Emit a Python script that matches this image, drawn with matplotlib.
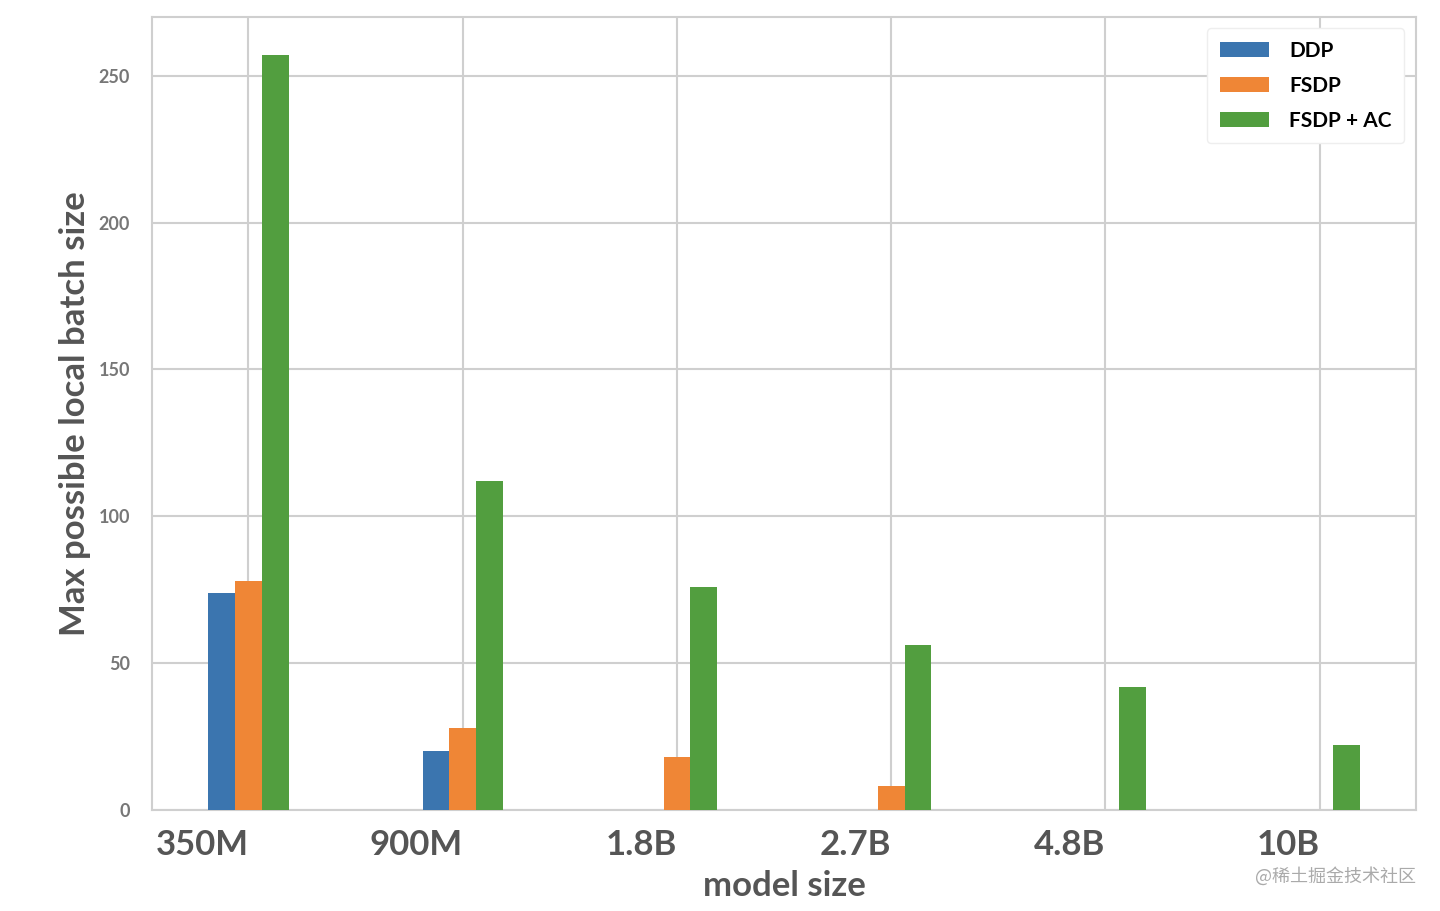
import matplotlib
matplotlib.use("Agg")
import matplotlib.pyplot as plt
import numpy as np

# data
model_sizes = ["350M", "900M", "1.8B", "2.7B", "4.8B", "10B"]
ddp = [74, 20, 0, 0, 0, 0]
fsdp = [78, 28, 18, 8, 0, 0]
fsdp_ac = [257, 112, 76, 56, 42, 22]
series_names = ["DDP", "FSDP", "FSDP + AC"]
colors = ["#3b75af", "#ef8636", "#529e3f"]

plt.rcParams["font.family"] = ["Lato", "DejaVu Sans"]

fig = plt.figure(figsize=(14.4, 9.11), dpi=100)
ax = fig.add_axes([0.1056, 0.111, 0.8777, 0.8703])

x = np.arange(len(model_sizes))
w = 0.125
for i, (vals, name) in enumerate(zip([ddp, fsdp, fsdp_ac], series_names)):
    ax.bar(x + (i - 1) * w, vals, width=w, color=colors[i], label=name, zorder=3)

ax.set_xlim(-0.45, 5.45)
ax.set_ylim(0, 270)
ax.set_yticks([0, 50, 100, 150, 200, 250])
ax.grid(True, color="#cfcfcf", linewidth=1.5, zorder=0)
for s in ax.spines.values():
    s.set_color("#cfcfcf")
    s.set_linewidth(1.5)
ax.tick_params(length=0)

ax.set_xticks(x)
ax.set_xticklabels(model_sizes, ha="right", fontsize=25, fontweight="bold", color="#555555")
for lbl in ax.get_yticklabels():
    lbl.set_fontsize(13)
    lbl.set_fontweight("bold")
    lbl.set_color("#777777")
ax.tick_params(axis="x", pad=14)
ax.tick_params(axis="y", pad=16)

ax.set_xlabel("model size", fontsize=25, fontweight="bold", color="#555555", labelpad=6)
ax.set_ylabel("Max possible local batch size", fontsize=25, fontweight="bold", color="#555555", labelpad=5)

leg = ax.legend(loc="upper right", prop={"weight": "bold", "size": 15},
                handlelength=2.35, handleheight=0.75, borderpad=0.6, labelspacing=0.72,
                handletextpad=1.0, borderaxespad=0.55, framealpha=1, edgecolor="#eeeeee")

fig.text(0.983, 0.038, "@稀土掘金技术社区", ha="right", va="center", fontsize=13, color="#aaaaaa",
         family=["Noto Sans CJK SC", "DejaVu Sans"])

fig.savefig("out.png", dpi=100)
